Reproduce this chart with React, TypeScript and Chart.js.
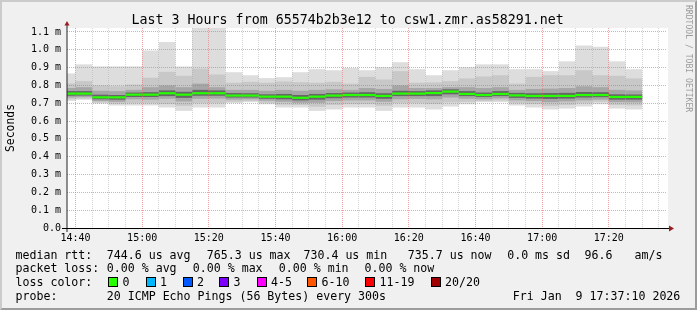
import React, { useEffect, useRef } from 'react';
import { Chart, registerables } from 'chart.js';

Chart.register(...registerables);

// ---------- data ----------
const slotTimes = [
  '14:35', '14:40', '14:45', '14:50', '14:55', '15:00', '15:05', '15:10', '15:15', '15:20',
  '15:25', '15:30', '15:35', '15:40', '15:45', '15:50', '15:55', '16:00', '16:05', '16:10',
  '16:15', '16:20', '16:25', '16:30', '16:35', '16:40', '16:45', '16:50', '16:55', '17:00',
  '17:05', '17:10', '17:15', '17:20', '17:25',
];

// round-trip times in milliseconds
const rttMax = [
  0.867, 0.918, 0.907, 0.907, 0.907, 0.996, 1.043, 0.906, 1.13, 1.13,
  0.874, 0.857, 0.841, 0.846, 0.874, 0.891, 0.885, 0.898, 0.885, 0.902,
  0.930, 0.891, 0.857, 0.885, 0.902, 0.918, 0.918, 0.891, 0.891, 0.880,
  0.935, 1.024, 1.017, 0.935, 0.891,
];
const rttP90 = [
  0.811, 0.824, 0.800, 0.795, 0.805, 0.843, 0.876, 0.854, 0.894, 0.861,
  0.815, 0.820, 0.815, 0.822, 0.818, 0.815, 0.820, 0.810, 0.848, 0.833,
  0.880, 0.815, 0.817, 0.824, 0.839, 0.850, 0.857, 0.810, 0.848, 0.857,
  0.857, 0.885, 0.857, 0.854, 0.839,
];
const rttP75 = [
  0.785, 0.790, 0.770, 0.768, 0.775, 0.790, 0.800, 0.790, 0.810, 0.790,
  0.775, 0.775, 0.770, 0.775, 0.770, 0.775, 0.778, 0.775, 0.785, 0.780,
  0.800, 0.785, 0.785, 0.790, 0.790, 0.785, 0.790, 0.775, 0.780, 0.782,
  0.785, 0.795, 0.790, 0.775, 0.772,
];
const rttP60 = [
  0.768, 0.768, 0.748, 0.746, 0.760, 0.762, 0.772, 0.764, 0.775, 0.772,
  0.757, 0.756, 0.750, 0.752, 0.746, 0.752, 0.757, 0.760, 0.762, 0.756,
  0.770, 0.768, 0.772, 0.778, 0.768, 0.760, 0.768, 0.758, 0.756, 0.757,
  0.758, 0.763, 0.762, 0.750, 0.749,
];
const rttMedian = [
  0.754, 0.754, 0.733, 0.733, 0.748, 0.748, 0.756, 0.748, 0.756, 0.756,
  0.743, 0.743, 0.737, 0.737, 0.7304, 0.737, 0.743, 0.746, 0.746, 0.741,
  0.754, 0.754, 0.757, 0.7653, 0.752, 0.746, 0.752, 0.744, 0.741, 0.741,
  0.741, 0.746, 0.746, 0.735, 0.7357,
];
const rttP40 = [
  0.742, 0.743, 0.722, 0.720, 0.735, 0.735, 0.740, 0.730, 0.742, 0.742,
  0.732, 0.732, 0.725, 0.722, 0.716, 0.720, 0.728, 0.732, 0.732, 0.725,
  0.740, 0.740, 0.740, 0.750, 0.740, 0.735, 0.740, 0.730, 0.726, 0.724,
  0.726, 0.732, 0.734, 0.720, 0.720,
];
const rttP25 = [
  0.732, 0.734, 0.712, 0.708, 0.722, 0.720, 0.725, 0.710, 0.725, 0.726,
  0.720, 0.722, 0.714, 0.708, 0.702, 0.702, 0.712, 0.716, 0.716, 0.708,
  0.722, 0.724, 0.722, 0.732, 0.725, 0.722, 0.727, 0.716, 0.712, 0.706,
  0.710, 0.716, 0.720, 0.706, 0.705,
];
const rttP10 = [
  0.722, 0.725, 0.704, 0.697, 0.700, 0.700, 0.695, 0.685, 0.700, 0.700,
  0.708, 0.712, 0.702, 0.692, 0.690, 0.680, 0.690, 0.695, 0.695, 0.685,
  0.700, 0.700, 0.695, 0.705, 0.708, 0.712, 0.715, 0.700, 0.695, 0.685,
  0.690, 0.700, 0.708, 0.690, 0.688,
];
const rttMin = [
  0.713, 0.719, 0.698, 0.687, 0.687, 0.687, 0.676, 0.657, 0.676, 0.676,
  0.700, 0.706, 0.694, 0.676, 0.676, 0.657, 0.665, 0.676, 0.676, 0.657,
  0.676, 0.676, 0.665, 0.681, 0.694, 0.706, 0.706, 0.687, 0.676, 0.665,
  0.670, 0.681, 0.694, 0.670, 0.665,
];

const axisStart = '14:37:27';
const axisEnd = '17:37:27';
const yMaxMs = 1.122;
const yTickValues = [0, 0.1, 0.2, 0.3, 0.4, 0.5, 0.6, 0.7, 0.8, 0.9, 1.0, 1.1];
const yTickLabels = ['0.0', '0.1 m', '0.2 m', '0.3 m', '0.4 m', '0.5 m', '0.6 m', '0.7 m', '0.8 m', '0.9 m', '1.0 m', '1.1 m'];
const xGridTimes = [
  '14:40', '14:45', '14:50', '14:55', '15:00', '15:05', '15:10', '15:15', '15:20', '15:25',
  '15:30', '15:35', '15:40', '15:45', '15:50', '15:55', '16:00', '16:05', '16:10', '16:15',
  '16:20', '16:25', '16:30', '16:35', '16:40', '16:45', '16:50', '16:55', '17:00', '17:05',
  '17:10', '17:15', '17:20', '17:25', '17:30', '17:35',
];

const titleText = 'Last 3 Hours from 65574b2b3e12 to csw1.zmr.as58291.net';
const medianStats = ['744.6 us avg', '765.3 us max', '730.4 us min', '735.7 us now', '0.0 ms sd', '96.6', 'am/s'];
const lossStats = ['0.00 % avg', '0.00 % max', '0.00 % min', '0.00 % now'];
const lossLabels = ['0', '1', '2', '3', '4-5', '6-10', '11-19', '20/20'];
const lossColors = ['#26ff00', '#00b8ff', '#0059ff', '#7e00ff', '#ff00ff', '#ff5500', '#ff0000', '#a10000'];
const probeText = '20 ICMP Echo Pings (56 Bytes) every 300s';
const dateText = 'Fri Jan  9 17:37:10 2026';
const creditText = 'RRDTOOL / TOBI OETIKER';

// ---------- helpers ----------
const toMin = (s: string) => {
  const p = s.split(':').map(Number);
  return p[0] * 60 + p[1] + (p[2] || 0) / 60;
};
const fmtTime = (v: number) => {
  const h = Math.floor(v / 60);
  const m = Math.round(v - h * 60);
  return `${h}:${String(m).padStart(2, '0')}`;
};

const MONO = '"DejaVu Sans Mono", monospace';

const rrdPlugin = {
  id: 'rrdFrame',
  beforeDraw(chart: any) {
    const { ctx, chartArea: a, width: W, height: H } = chart;
    ctx.save();
    ctx.fillStyle = '#f0f0f0';
    ctx.fillRect(0, 0, W, H);
    // 3d frame
    ctx.fillStyle = '#cbcbcb';
    ctx.beginPath();
    ctx.moveTo(0, H); ctx.lineTo(2, H - 2); ctx.lineTo(2, 2); ctx.lineTo(W - 2, 2); ctx.lineTo(W, 0); ctx.lineTo(0, 0);
    ctx.closePath(); ctx.fill();
    ctx.fillStyle = '#9c9c9c';
    ctx.beginPath();
    ctx.moveTo(2, H - 2); ctx.lineTo(W - 2, H - 2); ctx.lineTo(W - 2, 2); ctx.lineTo(W, 0); ctx.lineTo(W, H); ctx.lineTo(0, H);
    ctx.closePath(); ctx.fill();
    // canvas
    ctx.fillStyle = '#ffffff';
    ctx.fillRect(a.left, a.top, a.right - a.left + 1, a.bottom - a.top);
    ctx.restore();
  },
  afterDraw(chart: any) {
    const { ctx, chartArea: a } = chart;
    ctx.save();
    // axes
    ctx.lineWidth = 1;
    ctx.strokeStyle = '#222';
    ctx.beginPath();
    ctx.moveTo(a.left, a.bottom + 4);
    ctx.lineTo(a.left, a.top - 3);
    ctx.stroke();
    ctx.strokeStyle = '#000';
    ctx.beginPath();
    ctx.moveTo(a.left - 5, a.bottom + 0.5);
    ctx.lineTo(a.right + 3, a.bottom + 0.5);
    ctx.stroke();
    // arrows
    ctx.fillStyle = '#9b1c1c';
    ctx.beginPath();
    ctx.moveTo(a.left - 2.5, a.top - 2.5);
    ctx.lineTo(a.left + 2.5, a.top - 2.5);
    ctx.lineTo(a.left, a.top - 7);
    ctx.closePath(); ctx.fill();
    ctx.beginPath();
    ctx.moveTo(a.right + 2, a.bottom + 0.5 - 3);
    ctx.lineTo(a.right + 2, a.bottom + 0.5 + 3);
    ctx.lineTo(a.right + 7, a.bottom + 0.5);
    ctx.closePath(); ctx.fill();

    // title
    ctx.fillStyle = '#000';
    ctx.textBaseline = 'alphabetic';
    ctx.textAlign = 'center';
    ctx.font = `13.3px ${MONO}`;
    ctx.fillText(titleText, 347.7, 24);

    // footer
    ctx.textAlign = 'left';
    ctx.font = `11.6px ${MONO}`;
    const y1 = 258.5, y2 = 272.3, y3 = 286.2, y4 = 300.1;
    ctx.fillText('median rtt:', 15.5, y1);
    const mx = [106.8, 206.8, 303.5, 407.8, 507.2, 584.5, 634.5];
    medianStats.forEach((t, i) => ctx.fillText(t, mx[i], y1));
    ctx.fillText('packet loss:', 15.5, y2);
    const lx = [106.8, 192.8, 278.8, 364.5];
    lossStats.forEach((t, i) => ctx.fillText(t, lx[i], y2));
    ctx.fillText('loss color:', 15.5, y3);
    const bx = [108, 145.5, 182.5, 219, 256.5, 307, 365, 430.5];
    lossLabels.forEach((t, i) => {
      const x = Math.round(bx[i]);
      ctx.fillStyle = lossColors[i];
      ctx.fillRect(x + 0.5, 277.5, 9, 9);
      ctx.strokeStyle = '#000';
      ctx.lineWidth = 1;
      ctx.strokeRect(x + 0.5, 277.5, 9, 9);
      ctx.fillStyle = '#000';
      ctx.fillText(t, bx[i] + 14.5, y3);
    });
    ctx.fillText('probe:', 15.5, y4);
    ctx.fillText(probeText, 106.8, y4);
    ctx.fillText(dateText, 512.8, y4);

    // credit
    ctx.save();
    ctx.translate(684.5, 5);
    ctx.rotate(Math.PI / 2);
    ctx.font = `8.1px ${MONO}`;
    ctx.fillStyle = '#9a9a9a';
    ctx.textBaseline = 'middle';
    ctx.fillText(creditText, 0, -3.5);
    ctx.restore();
    ctx.restore();
  },
};

export default function App() {
  const ref = useRef<HTMLCanvasElement>(null);

  useEffect(() => {
    const canvas = ref.current;
    if (!canvas) return;
    const xs = slotTimes.map((t) => toMin(t) + 2.5);
    const band = (lo: number[], hi: number[]) => xs.map((x, i) => ({ x, y: [lo[i], hi[i]] }));
    const medHalf = 0.0062; // half thickness of the median marker (ms)

    const xMajor = (v: number) => Math.abs(v / 20 - Math.round(v / 20)) < 1e-6;

    const chart = new Chart(canvas, {
      type: 'bar',
      data: {
        datasets: [
          { label: 'smoke 0', data: band(rttMin, rttMax), backgroundColor: '#dddddd', order: 6 },
          { label: 'smoke 1', data: band(rttP10, rttP90), backgroundColor: '#c8c8c8', order: 5 },
          { label: 'smoke 2', data: band(rttP25, rttP75), backgroundColor: '#a6a6a6', order: 4 },
          { label: 'smoke 3', data: band(rttP40, rttP60), backgroundColor: '#666666', order: 3 },
          {
            label: 'median',
            data: xs.map((x, i) => ({ x, y: [rttMedian[i] - medHalf, rttMedian[i] + medHalf] })),
            backgroundColor: '#26ff00',
            order: 1,
          },
        ] as any,
      },
      options: {
        animation: false,
        responsive: false,
        devicePixelRatio: 1,
        events: [],
        layout: { padding: { left: 0, top: 28, right: 30, bottom: 62 } },
        datasets: {
          bar: { grouped: false, barPercentage: 1, categoryPercentage: 1, borderWidth: 0, inflateAmount: 0 },
        } as any,
        plugins: {
          legend: { display: false },
          tooltip: { enabled: false },
          title: { display: false },
        },
        scales: {
          x: {
            type: 'linear',
            min: toMin(axisStart),
            max: toMin(axisEnd),
            offset: false,
            grid: {
              offset: false,
              z: 1,
              drawTicks: false,
              lineWidth: 1,
              color: (c: any) => (c.tick && xMajor(c.tick.value) ? 'rgba(235,90,90,0.55)' : 'rgba(160,160,160,0.45)'),
            },
            border: { display: false, dash: [1, 1] },
            ticks: {
              autoSkip: false,
              maxRotation: 0,
              minRotation: 0,
              padding: 4,
              color: '#000',
              font: { family: 'DejaVu Sans Mono', size: 10 },
              callback: (v: any) => (xMajor(Number(v)) ? fmtTime(Number(v)) : ''),
            },
            afterBuildTicks: (s: any) => {
              s.ticks = xGridTimes.map((t) => ({ value: toMin(t) }));
            },
            afterFit: (s: any) => {
              s.height = 20;
            },
          } as any,
          y: {
            type: 'linear',
            min: 0,
            max: yMaxMs,
            grid: {
              z: 1,
              drawTicks: false,
              lineWidth: 1,
              color: 'rgba(235,90,90,0.55)',
            },
            border: { display: false, dash: [1, 1] },
            ticks: {
              padding: 6,
              color: '#000',
              font: { family: 'DejaVu Sans Mono', size: 10 },
              callback: (v: any) => {
                const i = yTickValues.findIndex((t) => Math.abs(t - Number(v)) < 1e-6);
                return i >= 0 ? yTickLabels[i] : '';
              },
            },
            title: {
              display: true,
              text: 'Seconds',
              color: '#000',
              font: { family: 'DejaVu Sans Mono', size: 11.4 },
              padding: { top: 4, bottom: 0 },
            },
            afterBuildTicks: (s: any) => {
              s.ticks = yTickValues.map((v) => ({ value: v }));
            },
            afterFit: (s: any) => {
              s.width = 67;
            },
          } as any,
        },
      },
      plugins: [rrdPlugin],
    });
    return () => chart.destroy();
  }, []);

  return (
    <div style={{ position: 'absolute', left: 0, top: 0, width: 697, height: 310 }}>
      <canvas ref={ref} width={697} height={310} style={{ display: 'block', width: 697, height: 310 }} />
    </div>
  );
}
